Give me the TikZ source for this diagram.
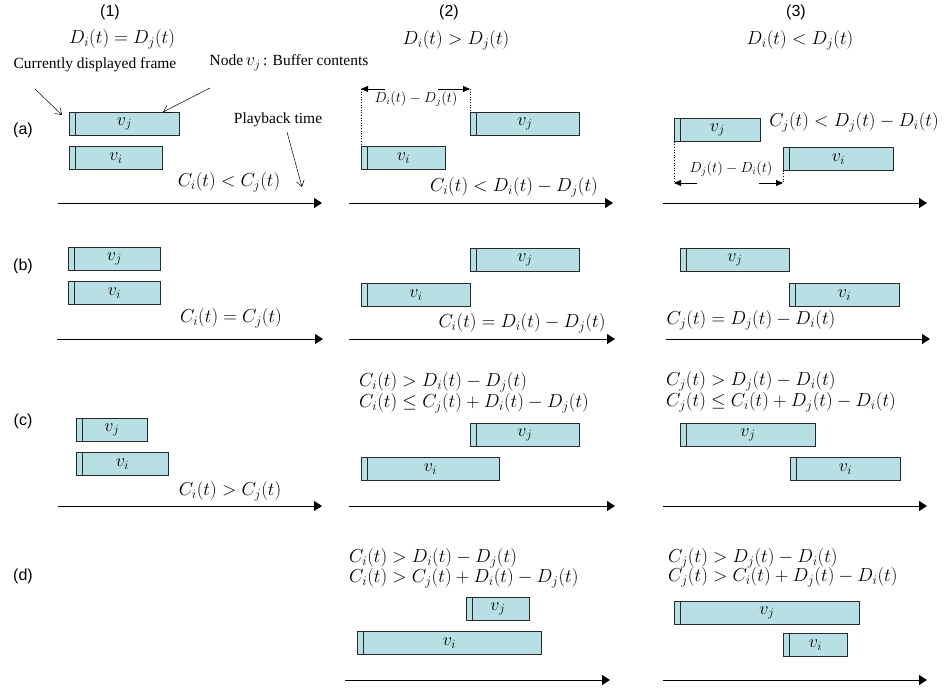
\RequirePackage{fix-cm}
\documentclass[tikz,border=0pt]{standalone}
\usepackage{fontspec}
\setmainfont{Liberation Serif}
\newfontfamily\tagfont{Liberation Sans}
\usetikzlibrary{arrows.meta}
\definecolor{barfill}{RGB}{184,224,228}
\definecolor{barline}{RGB}{40,40,40}
\newcommand\eqsize{\fontsize{18.8}{22}\selectfont}
\newcommand\barsize{\fontsize{18}{21}\selectfont}
\newcommand\dimsize{\fontsize{14.5}{17}\selectfont}
\newcommand\notesize{\fontsize{15.5}{18}\selectfont}
\newcommand\tagsize{\fontsize{16}{19}\selectfont}
% buffer bar: name, left x, right x, top y, label
\newcommand\buffer[5]{%
  \node[bufbar, minimum width={(#3-#2)*1pt}] (#1) at (#2,#4) {#5};
  \draw[barmark] ([xshift=6pt]#1.north west) -- ([xshift=6pt]#1.south west);}
\begin{document}
\begin{tikzpicture}[x=1pt,y=-1pt,
  bufbar/.style={draw=barline, fill=barfill, line width=0.8pt, minimum height=23pt,
    inner sep=0pt, anchor=north west, font=\barsize},
  barmark/.style={draw=barline, line width=0.8pt},
  eq/.style={font=\eqsize, inner sep=0pt},
  dimeq/.style={font=\dimsize, inner sep=0pt},
  note/.style={font=\notesize, inner sep=0pt},
  tag/.style={font=\tagfont\tagsize, inner sep=0pt},
  axis/.style={line width=1pt, -{Triangle[length=8pt,width=10pt]}},
  dimarrow/.style={line width=0.8pt, -{Triangle[length=7pt,width=6pt]}},
  guide/.style={dotted, line width=0.6pt},
  pointer/.style={line width=0.5pt, -{Straight Barb[length=6pt,width=8pt]}}]
\useasboundingbox (0,0) rectangle (952,693);

% column headings
\node[tag] (h1) at (110,12) {(1)};
\node[eq]  (e1) at (122,39) {$D_i(t)=D_j(t)$};
\node[tag] (h2) at (449,12) {(2)};
\node[eq]  (e2) at (456,40) {$D_i(t)>D_j(t)$};
\node[tag] (h3) at (796,12) {(3)};
\node[eq]  (e3) at (800,40) {$D_i(t)<D_j(t)$};

% row tags
\node[tag] (ra) at (23,130) {(a)};
\node[tag] (rb) at (23,266) {(b)};
\node[tag] (rc) at (23,421) {(c)};
\node[tag] (rd) at (23,576) {(d)};

% annotations
\node[note] (cur)  at (95,65)  {Currently displayed frame};
\node[note] (bufn) at (289,63) {Node\,{\fontsize{18}{21}\selectfont$v_j$}\,: Buffer contents};
\node[note] (play) at (278,120) {Playback time};

% ---- row (a)
\buffer{a1j}{69}{179}{112}{$v_j$}
\buffer{a1i}{69}{162}{146}{$v_i$}
\buffer{a2j}{470}{579}{112}{$v_j$}
\buffer{a2i}{361}{445}{146}{$v_i$}
\buffer{a3j}{674}{760}{118}{$v_j$}
\buffer{a3i}{783}{893}{147}{$v_i$}

\coordinate (curS) at (35,89);
\coordinate (bufS) at (210,88);
\coordinate (bufE) at (163,112);
\coordinate (playS) at (287,132);
\coordinate (playE) at (302,187);
\draw[pointer] (curS) -- ([xshift=-7pt,yshift=-3pt]a1j.north west);
\draw[pointer] (bufS) -- (bufE);
\draw[pointer] (playS) -- (playE);

\node[eq] (ca1) at (229,182) {$C_i(t)<C_j(t)$};
\node[eq] (ca2) at (514,187) {$C_i(t)<D_i(t)-D_j(t)$};
\node[eq] (ca3) at (854,122) {$C_j(t)<D_j(t)-D_i(t)$};

% offset between the two buffers, column (2)
\coordinate (d2L) at (361,89);
\coordinate (d2R) at (470,89);
\coordinate (d2a) at (385,89);
\coordinate (d2b) at (438,89);
\draw[guide] (d2L) -- (a2i.north west);
\draw[guide] (d2R) -- (a2j.north west);
\draw[dimarrow] (d2a) -- (d2L);
\draw[dimarrow] (d2b) -- (d2R);
\node[dimeq] (dd2) at (416,99) {$D_i(t)-D_j(t)$};

% offset between the two buffers, column (3)
\coordinate (d3L) at (674,183);
\coordinate (d3R) at (783,183);
\coordinate (d3a) at (697,183);
\coordinate (d3b) at (759,183);
\draw[guide] (a3j.south west) -- (d3L);
\draw[guide] (a3i.south west) -- (d3R);
\draw[dimarrow] (d3a) -- (d3L);
\draw[dimarrow] (d3b) -- (d3R);
\node[dimeq] (dd3) at (731,169) {$D_j(t)-D_i(t)$};

\coordinate (xa1s) at (58,203);  \coordinate (xa1e) at (322,203);
\coordinate (xa2s) at (349,203); \coordinate (xa2e) at (613,203);
\coordinate (xa3s) at (663,203); \coordinate (xa3e) at (927,203);
\draw[axis] (xa1s) -- (xa1e);
\draw[axis] (xa2s) -- (xa2e);
\draw[axis] (xa3s) -- (xa3e);

% ---- row (b)
\buffer{b1j}{68}{160}{247}{$v_j$}
\buffer{b1i}{68}{160}{281}{$v_i$}
\buffer{b2j}{470}{579}{248}{$v_j$}
\buffer{b2i}{361}{470}{283}{$v_i$}
\buffer{b3j}{680}{789}{248}{$v_j$}
\buffer{b3i}{789}{899}{283}{$v_i$}

\node[eq] (cb1) at (231,318) {$C_i(t)=C_j(t)$};
\node[eq] (cb2) at (522,323) {$C_i(t)=D_i(t)-D_j(t)$};
\node[eq] (cb3) at (751,320) {$C_j(t)=D_j(t)-D_i(t)$};

\coordinate (xb1s) at (57,339);  \coordinate (xb1e) at (323,339);
\coordinate (xb2s) at (349,339); \coordinate (xb2e) at (615,339);
\coordinate (xb3s) at (666,339); \coordinate (xb3e) at (930,339);
\draw[axis] (xb1s) -- (xb1e);
\draw[axis] (xb2s) -- (xb2e);
\draw[axis] (xb3s) -- (xb3e);

% ---- row (c)
\buffer{c1j}{76}{147}{418}{$v_j$}
\buffer{c1i}{76}{168}{452}{$v_i$}
\buffer{c2j}{470}{579}{423}{$v_j$}
\buffer{c2i}{361}{499}{457}{$v_i$}
\buffer{c3j}{680}{815}{423}{$v_j$}
\buffer{c3i}{790}{900}{457}{$v_i$}

\node[eq] (cc1) at (230,491) {$C_i(t)>C_j(t)$};
\node[eq, anchor=west] (cc2a) at (359,382) {$C_i(t)>D_i(t)-D_j(t)$};
\node[eq, anchor=west] (cc2b) at (359,403) {$C_i(t)\leq C_j(t)+D_i(t)-D_j(t)$};
\node[eq, anchor=west] (cc3a) at (666,381) {$C_j(t)>D_j(t)-D_i(t)$};
\node[eq, anchor=west] (cc3b) at (666,402) {$C_j(t)\leq C_i(t)+D_j(t)-D_i(t)$};

\coordinate (xc1s) at (58,506);  \coordinate (xc1e) at (322,506);
\coordinate (xc2s) at (349,506); \coordinate (xc2e) at (615,506);
\coordinate (xc3s) at (663,506); \coordinate (xc3e) at (927,506);
\draw[axis] (xc1s) -- (xc1e);
\draw[axis] (xc2s) -- (xc2e);
\draw[axis] (xc3s) -- (xc3e);

% ---- row (d)
\buffer{d2j}{466}{529}{597}{$v_j$}
\buffer{d2i}{357}{541}{631}{$v_i$}
\buffer{d3j}{674}{859}{601}{$v_j$}
\buffer{d3i}{783}{847}{633}{$v_i$}

\node[eq, anchor=west] (cd2a) at (349,558) {$C_i(t)>D_i(t)-D_j(t)$};
\node[eq, anchor=west] (cd2b) at (349,578) {$C_i(t)>C_j(t)+D_i(t)-D_j(t)$};
\node[eq, anchor=west] (cd3a) at (668,558) {$C_j(t)>D_j(t)-D_i(t)$};
\node[eq, anchor=west] (cd3b) at (668,577) {$C_j(t)>C_i(t)+D_j(t)-D_i(t)$};

\coordinate (xd2s) at (345,680); \coordinate (xd2e) at (610,680);
\coordinate (xd3s) at (663,680); \coordinate (xd3e) at (927,680);
\draw[axis] (xd2s) -- (xd2e);
\draw[axis] (xd3s) -- (xd3e);
\end{tikzpicture}
\end{document}
